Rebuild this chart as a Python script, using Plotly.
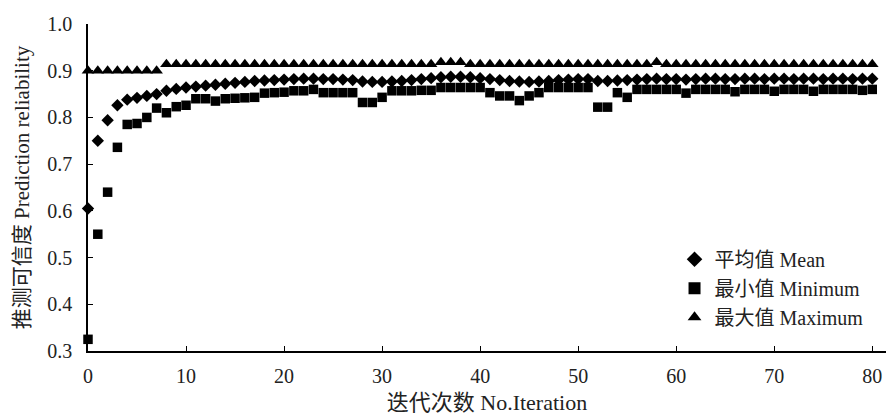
import plotly.graph_objects as go

iterations = list(range(81))

mean_vals = [
    0.605, 0.750, 0.794, 0.826, 0.838, 0.842, 0.846, 0.850, 0.857, 0.861,
    0.864, 0.866, 0.868, 0.870, 0.872, 0.874, 0.876, 0.878, 0.879, 0.880,
    0.881, 0.882, 0.883, 0.883, 0.882, 0.882, 0.881, 0.880, 0.877, 0.876,
    0.876, 0.877, 0.878, 0.880, 0.882, 0.884, 0.886, 0.887, 0.887, 0.886,
    0.884, 0.882, 0.880, 0.878, 0.877, 0.876, 0.877, 0.878, 0.880, 0.881,
    0.882, 0.882, 0.878, 0.878, 0.879, 0.880, 0.881, 0.882, 0.883, 0.882,
    0.882, 0.881, 0.882, 0.883, 0.883, 0.882, 0.882, 0.883, 0.883, 0.882,
    0.883, 0.883, 0.882, 0.883, 0.883, 0.882, 0.883, 0.883, 0.882, 0.883, 0.883,
]

min_vals = [
    0.325, 0.550, 0.640, 0.736, 0.785, 0.787, 0.800, 0.820, 0.810, 0.823,
    0.826, 0.840, 0.840, 0.835, 0.840, 0.841, 0.842, 0.843, 0.852, 0.853,
    0.854, 0.857, 0.857, 0.860, 0.853, 0.853, 0.853, 0.853, 0.832, 0.832,
    0.843, 0.857, 0.857, 0.857, 0.858, 0.858, 0.864, 0.864, 0.864, 0.864,
    0.864, 0.853, 0.846, 0.846, 0.836, 0.846, 0.853, 0.864, 0.864, 0.864,
    0.864, 0.864, 0.822, 0.822, 0.853, 0.843, 0.860, 0.860, 0.860, 0.860,
    0.860, 0.852, 0.860, 0.860, 0.860, 0.860, 0.855, 0.860, 0.860, 0.860,
    0.856, 0.860, 0.860, 0.860, 0.856, 0.860, 0.860, 0.860, 0.860, 0.858, 0.860,
]

max_vals = [
    0.900, 0.900, 0.900, 0.900, 0.900, 0.900, 0.900, 0.900, 0.914, 0.914,
    0.914, 0.914, 0.914, 0.914, 0.914, 0.914, 0.914, 0.914, 0.914, 0.914,
    0.914, 0.914, 0.914, 0.914, 0.914, 0.914, 0.914, 0.914, 0.914, 0.914,
    0.914, 0.914, 0.914, 0.914, 0.914, 0.914, 0.918, 0.918, 0.918, 0.914,
    0.914, 0.914, 0.914, 0.914, 0.914, 0.914, 0.914, 0.914, 0.914, 0.914,
    0.914, 0.914, 0.914, 0.914, 0.914, 0.914, 0.914, 0.914, 0.918, 0.914,
    0.914, 0.914, 0.914, 0.914, 0.914, 0.914, 0.914, 0.914, 0.914, 0.914,
    0.914, 0.914, 0.914, 0.914, 0.914, 0.914, 0.914, 0.914, 0.914, 0.914, 0.914,
]

names = ["平均值 Mean", "最小值 Minimum", "最大值 Maximum"]
x_ticks = [0, 10, 20, 30, 40, 50, 60, 70, 80]
y_ticks = [0.3, 0.4, 0.5, 0.6, 0.7, 0.8, 0.9, 1.0]

FONT = "Liberation Serif, Times New Roman, Noto Sans CJK SC, serif"

fig = go.Figure()
fig.add_trace(go.Scatter(x=iterations, y=mean_vals, mode="markers", name=names[0],
                         marker=dict(symbol="diamond", size=9.5, color="black"),
                         cliponaxis=False))
fig.add_trace(go.Scatter(x=iterations, y=min_vals, mode="markers", name=names[1],
                         marker=dict(symbol="square", size=9.5, color="black"),
                         cliponaxis=False))
fig.add_trace(go.Scatter(x=iterations, y=max_vals, mode="markers", name=names[2],
                         marker=dict(symbol="triangle-up", size=11, color="black"),
                         cliponaxis=False))

fig.update_layout(
    width=890, height=415,
    margin=dict(l=88, r=4, t=24, b=60),
    paper_bgcolor="white", plot_bgcolor="white",
    font=dict(family=FONT, size=20, color="#222"),
    showlegend=True,
    legend=dict(x=0.735, y=0.34, xanchor="left", yanchor="top",
                bgcolor="rgba(0,0,0,0)", font=dict(family=FONT, size=20),
                tracegroupgap=0, itemsizing="constant"),
    xaxis=dict(range=[0, 81.4], tickvals=x_ticks, ticktext=[str(v) for v in x_ticks],
               showgrid=False, zeroline=False, showline=True, linecolor="black",
               linewidth=1.5, ticks="inside", ticklen=5, tickwidth=1.2, tickcolor="black",
               ticklabelstandoff=6,
               title=dict(text="迭代次数 No.Iteration", font=dict(family=FONT, size=22),
                          standoff=9)),
    yaxis=dict(range=[0.3, 1.0], tickvals=y_ticks, ticktext=[f"{v:.1f}" for v in y_ticks],
               showgrid=False, zeroline=False, showline=True, linecolor="black",
               linewidth=1.5, ticks="inside", ticklen=5, tickwidth=1.2, tickcolor="black",
               ticklabelstandoff=10,
               title=dict(text="推测可信度 Prediction reliability", font=dict(family=FONT, size=21),
                          standoff=12)),
)

fig.write_html("out.html")
